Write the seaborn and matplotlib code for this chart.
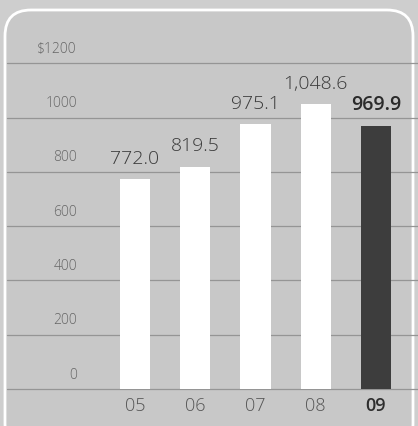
import matplotlib
matplotlib.use("Agg")
import matplotlib.pyplot as plt
from matplotlib.patches import FancyBboxPatch
import seaborn as sns
import pandas as pd

# Revenue by fiscal year ($ millions)
years = ["05", "06", "07", "08", "09"]
revenue = [772.0, 819.5, 975.1, 1048.6, 969.9]
value_labels = ["772.0", "819.5", "975.1", "1,048.6", "969.9"]
bar_colors = ["#ffffff", "#ffffff", "#ffffff", "#ffffff", "#3d3d3d"]
y_ticks = [0, 200, 400, 600, 800, 1000, 1200]
y_tick_labels = ["0", "200", "400", "600", "800", "1000", "$1200"]

sns.set_theme(style="white")
plt.rcParams["font.family"] = ["Open Sans", "DejaVu Sans"]

BG = "#c8c8c8"
W, H, DPI = 418, 426, 100
fig = plt.figure(figsize=(W / DPI, H / DPI), dpi=DPI, facecolor="#cecece")

# backdrop panel with rounded white outline, laid out in pixel units
bg = fig.add_axes([0, 0, 1, 1])
bg.set_xlim(0, W)
bg.set_ylim(H, 0)
bg.axis("off")
panel = FancyBboxPatch((5, 10), 408, 440, boxstyle="round,pad=0,rounding_size=26",
                       facecolor=BG, edgecolor="white", linewidth=2.0)
bg.add_patch(panel)

# chart axes spanning the full canvas, mapped so the bars sit in place
ax = fig.add_axes([0, 0, 1, 1])
ax.patch.set_alpha(0)
px_per_unit = (389 - 63.3) / 1200
ax.set_ylim(-(H - 389) / px_per_unit, 389 / px_per_unit)
slot = 60.25

# horizontal guides
x_left = (7 - 135) / slot
x_right = (W - 135) / slot
for t in y_ticks:
    ax.plot([x_left, x_right], [t, t], color="#959595", lw=0.9, zorder=1)

df = pd.DataFrame({"year": years, "revenue": revenue})
sns.barplot(data=df, x="year", y="revenue", hue="year",
            palette=dict(zip(years, bar_colors)), width=0.5,
            legend=False, ax=ax, saturation=1, zorder=2, linewidth=0)
ax.set_xlim(-135 / slot, (W - 135) / slot)

ax.set_xticks([])
ax.set_yticks([])
for s in ax.spines.values():
    s.set_visible(False)
ax.set_xlabel("")
ax.set_ylabel("")

# y-axis labels sit above their guide lines
for t, lab in zip(y_ticks, y_tick_labels):
    ax.annotate(lab, xy=((77 - 135) / slot, t), xytext=(0, 10), textcoords="offset points",
                ha="right", va="center", fontsize=10, color="#666666",
                fontweight="light", zorder=3)

# value labels above each bar, and year labels below the baseline
for i, (v, lab) in enumerate(zip(revenue, value_labels)):
    last = i == len(years) - 1
    ax.annotate(lab, xy=(i, v), xytext=(0, 11), textcoords="offset points",
                ha="center", va="baseline", fontsize=14,
                color="#2a2a2a" if last else "#3a3a3a",
                fontweight="semibold" if last else "light", zorder=3)
    ax.annotate(years[i], xy=(i, 0), xytext=(0, -12.5), textcoords="offset points",
                ha="center", va="center", fontsize=13,
                color="#2e2e2e" if last else "#555555",
                fontweight="semibold" if last else "light", zorder=3)

fig.savefig("out.png", dpi=DPI, facecolor=fig.get_facecolor())
